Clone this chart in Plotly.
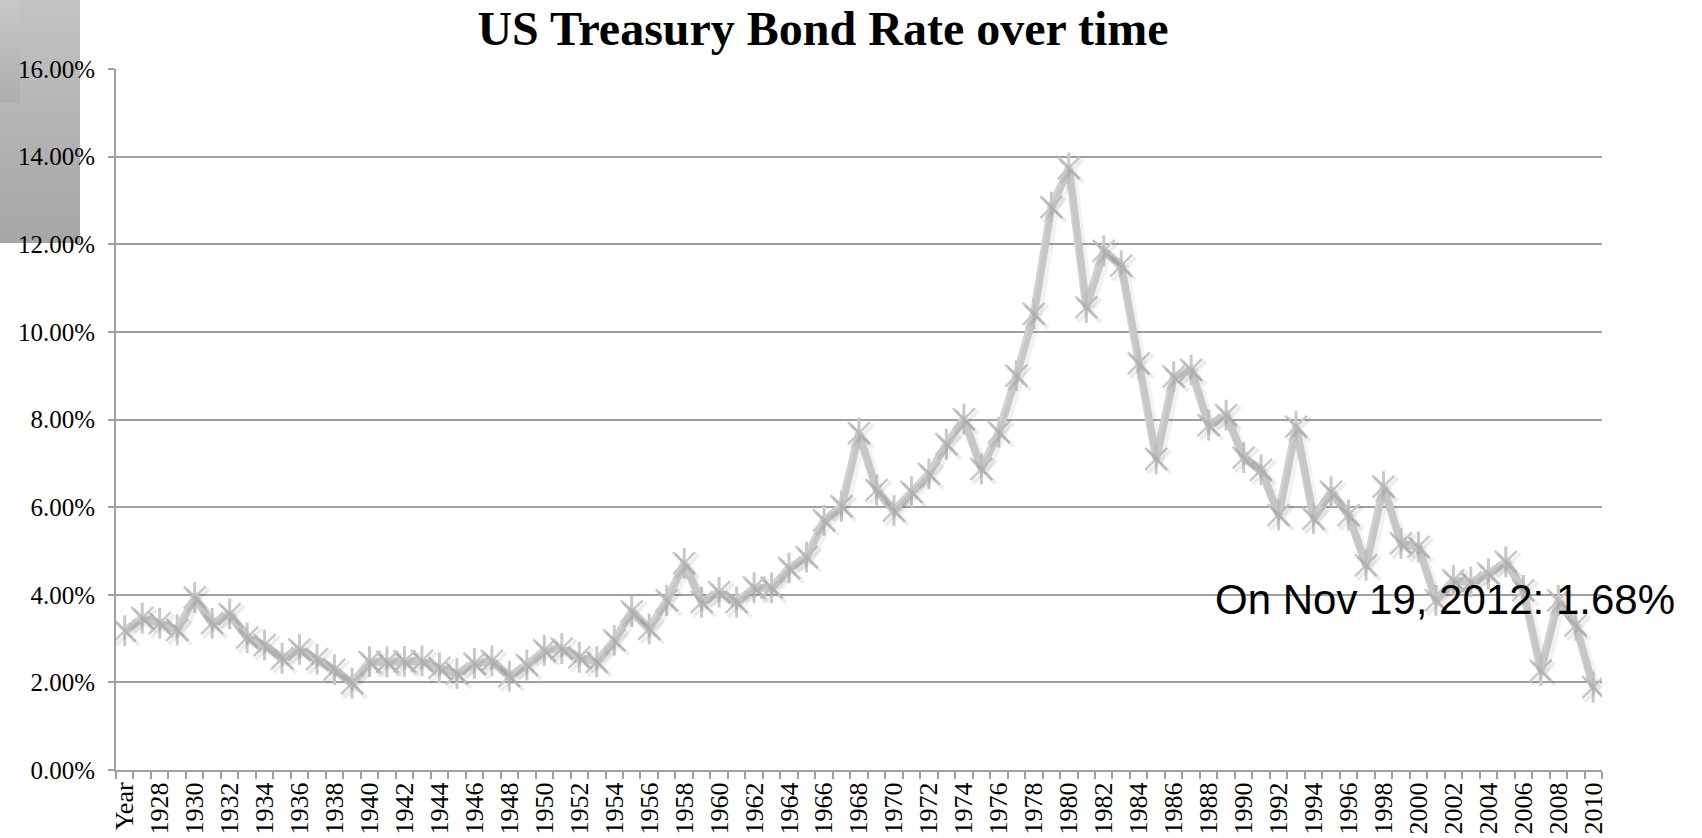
import base64
import plotly.graph_objects as go

# Category labels: a header cell followed by one entry per year
categories = ["Year"] + [str(y) for y in range(1927, 2011)]

# Treasury bond rate (%) for each category
rates = [
    3.18, 3.47, 3.35, 3.20, 3.94, 3.35, 3.56, 3.02, 2.85, 2.55,
    2.75, 2.53, 2.29, 1.98, 2.47, 2.47, 2.48, 2.49, 2.33, 2.20,
    2.43, 2.49, 2.14, 2.40, 2.73, 2.77, 2.57, 2.47, 2.96, 3.62,
    3.22, 3.87, 4.72, 3.83, 4.06, 3.83, 4.16, 4.16, 4.61, 4.86,
    5.70, 6.02, 7.69, 6.39, 5.92, 6.35, 6.76, 7.44, 8.01, 6.87,
    7.71, 9.00, 10.41, 12.85, 13.74, 10.56, 11.85, 11.51, 9.28, 7.10,
    8.98, 9.13, 7.87, 8.10, 7.13, 6.85, 5.82, 7.84, 5.74, 6.35,
    5.82, 4.67, 6.47, 5.17, 5.09, 3.87, 4.33, 4.29, 4.48, 4.75,
    4.10, 2.27, 3.87, 3.30, 1.89,
]

# Every other category carries a visible label
tick_text = [c if i % 2 == 0 else "" for i, c in enumerate(categories)]

title_text = "US Treasury Bond Rate over time"
note_text = "On Nov 19, 2012: 1.68%"

W, H = 1702, 838
M_L, M_R, M_T, M_B = 116, 100, 69, 68
PLOT_W = W - M_L - M_R
PLOT_H = H - M_T - M_B
Y_MAX = 16

SERIF = "Liberation Serif, Times New Roman, serif"
SANS = "Liberation Sans, Arial, Helvetica, sans-serif"
GRID = "#a0a0a0"
LINE = "#d2d2d2"
MARK = "#c8c8c8"
SHADOW_LINE = "rgba(0,0,0,0.05)"
SHADOW_MARK = "rgba(0,0,0,0.07)"


def gradient_svg(w, h, top, bottom):
    svg = (
        f'<svg xmlns="http://www.w3.org/2000/svg" width="{w}" height="{h}">'
        '<defs><linearGradient id="g" x1="0" y1="0" x2="0" y2="1">'
        f'<stop offset="0" stop-color="{top}"/><stop offset="1" stop-color="{bottom}"/>'
        '</linearGradient></defs>'
        f'<rect width="{w}" height="{h}" fill="url(#g)"/></svg>'
    )
    return "data:image/svg+xml;base64," + base64.b64encode(svg.encode()).decode()


def px_box(x0, y0, w, h):
    # convert a pixel box on the page into paper coordinates
    return dict(
        x=(x0 - M_L) / PLOT_W,
        y=(H - M_B - y0) / PLOT_H,
        sizex=w / PLOT_W,
        sizey=h / PLOT_H,
    )


fig = go.Figure()

# soft drop shadow drawn on a slightly shifted copy of the axes
shift_x = 3 / (PLOT_W / len(categories))
shift_y = 3 * Y_MAX / PLOT_H
fig.add_trace(go.Scatter(
    x=categories, y=rates, xaxis="x2", yaxis="y2",
    mode="lines+markers",
    line=dict(color=SHADOW_LINE, width=10),
    marker=dict(symbol="x-thin-open", size=23, color=SHADOW_MARK,
                line=dict(color=SHADOW_MARK, width=4)),
    hoverinfo="skip", showlegend=False,
))

fig.add_trace(go.Scatter(
    x=categories, y=rates, mode="lines",
    line=dict(color=LINE, width=8),
    showlegend=False,
))
fig.add_trace(go.Scatter(
    x=categories, y=rates, mode="markers",
    marker=dict(symbol="x-thin-open", size=22, color=MARK, line=dict(color=MARK, width=2.5)),
    showlegend=False, hoverinfo="skip",
))
fig.add_trace(go.Scatter(
    x=categories, y=rates, mode="markers",
    marker=dict(symbol="line-ns-open", size=22, color=MARK, line=dict(color=MARK, width=3)),
    showlegend=False,
))

fig.update_layout(
    width=W, height=H,
    margin=dict(l=M_L, r=M_R, t=M_T, b=M_B, autoexpand=False),
    paper_bgcolor="white", plot_bgcolor="white",
    title=dict(
        text=f"<b>{title_text}</b>",
        font=dict(family=SERIF, size=48, color="black"),
        x=823 / W, xref="container", xanchor="center",
        y=1 - 28 / H, yref="container", yanchor="middle",
    ),
    xaxis=dict(
        type="category", categoryorder="array", categoryarray=categories,
        range=[-0.5, len(categories) - 0.5], automargin=False,
        tickmode="array", tickvals=categories, ticktext=tick_text,
        tickson="boundaries", ticks="outside", ticklen=7, tickwidth=1.5, tickcolor=GRID,
        tickangle=-90, tickfont=dict(family=SERIF, size=26, color="black"),
        showline=True, linecolor=GRID, linewidth=2,
        showgrid=False, zeroline=False,
    ),
    yaxis=dict(
        range=[0, Y_MAX], tickmode="linear", tick0=0, dtick=2, automargin=False,
        tickformat=".2f", ticksuffix="%",
        ticks="outside", ticklen=6, tickwidth=1.5, tickcolor=GRID,
        ticklabelstandoff=8,
        tickfont=dict(family=SERIF, size=25, color="black"),
        showline=True, linecolor=GRID, linewidth=2,
        showgrid=True, gridcolor=GRID, gridwidth=1.5, zeroline=False,
    ),
    xaxis2=dict(
        type="category", categoryorder="array", categoryarray=categories,
        range=[-0.5 - shift_x, len(categories) - 0.5 - shift_x],
        overlaying="x", visible=False,
    ),
    yaxis2=dict(
        range=[shift_y, Y_MAX + shift_y],
        overlaying="y", visible=False,
    ),
    annotations=[dict(
        text=note_text, xref="paper", yref="paper",
        x=(1213 - M_L) / PLOT_W, y=(H - M_B - 599) / PLOT_H,
        xanchor="left", yanchor="middle", showarrow=False,
        font=dict(family=SANS, size=42, color="black"),
    )],
    images=[
        dict(source=gradient_svg(80, 243, "#c3c3c3", "#a6a6a6"),
             xref="paper", yref="paper", xanchor="left", yanchor="top",
             sizing="stretch", layer="below", **px_box(0, 0, 80, 243)),
        dict(source=gradient_svg(20, 103, "#c8c8c8", "#adadad"),
             xref="paper", yref="paper", xanchor="left", yanchor="top",
             sizing="stretch", layer="below", **px_box(0, 0, 20, 103)),
    ],
)

fig.write_html("out.html")
